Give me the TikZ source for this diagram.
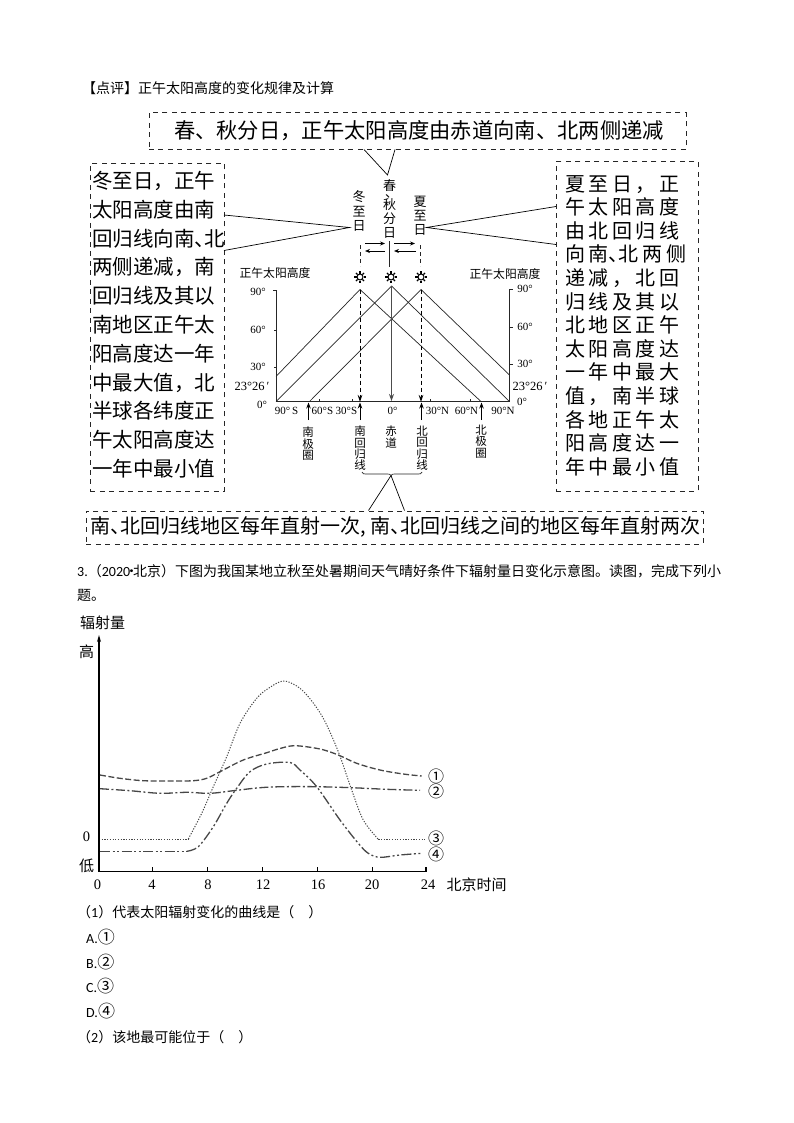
\documentclass[tikz,border=0pt]{standalone}
\usepackage{fontspec}
\setmainfont{Noto Sans CJK SC}
\newfontfamily\numf{Liberation Serif}
\newfontfamily\latf{Carlito}
\newfontfamily\widecjk[LetterSpace=18]{Noto Sans CJK SC}
\usetikzlibrary{arrows.meta}
\newcommand\hp[1]{\makebox[.5em][l]{#1}}
\newcommand\vfontbig{\fontsize{13}{14.2}\selectfont\setlength{\lineskiplimit}{-30pt}\setlength{\lineskip}{0pt}}
\newcommand\vfontsmall{\fontsize{11.5}{11.3}\selectfont\setlength{\lineskiplimit}{-30pt}\setlength{\lineskip}{0pt}}
\tikzset{
  dbox/.style={draw=black!85,line width=.95pt,dash pattern=on 5pt off 4.5pt,inner sep=0pt,anchor=north west},
  body/.style={anchor=west,inner sep=0pt,font=\fontsize{14}{16}\selectfont},
  calltext/.style={inner sep=0pt,align=left},
  callout/.style={draw=black,line width=.7pt,line join=miter},
  sline/.style={draw=black!85,line width=.7pt},
  vlab/.style={inner sep=0pt,align=center,font=\vfontbig},
  vlabs/.style={inner sep=0pt,align=center,font=\vfontsmall},
  num/.style={inner sep=0pt,font=\numf\fontsize{11}{13}\selectfont},
  deg/.style={inner sep=0pt,font=\numf\fontsize{12.5}{14}\selectfont},
  axtitle/.style={inner sep=0pt,font=\fontsize{11.8}{13}\selectfont},
  sunmark/.style={circle,draw=black,line width=1pt,minimum size=6pt,inner sep=0pt},
  tipline/.style={-{Stealth[length=5pt,width=4pt]},draw=black,line width=.7pt},
  dropline/.style={-{Stealth[length=7pt,width=4.5pt]},draw=black,line width=.8pt,dash pattern=on 4pt off 3pt},
  chartnum/.style={inner sep=0pt,font=\numf\fontsize{14.5}{16}\selectfont},
  chartcjk/.style={inner sep=0pt,font=\fontsize{15}{17}\selectfont},
  curve/.style={draw=black!72,line width=1.3pt,smooth,tension=.55},
  circnum/.style={inner sep=0pt,font=\fontsize{16}{18}\selectfont},
}
\begin{document}
\begin{tikzpicture}[x=1pt,y=-1pt]
\fill[white] (0,0) rectangle (794,1123);
\useasboundingbox (0,0) rectangle (794,1123);

% page text
\node[body] (t1) at (82,88) {【点评】正午太阳高度的变化规律及计算};
\node[body] (t2) at (77,571) {{\latf 3.}（{\latf 2020}\makebox[3pt]{·}北京）下图为我国某地立秋至处暑期间天气晴好条件下辐射量日变化示意图。读图，完成下列小};
\node[body] (t3) at (77,595) {题。};
\node[body] (q1) at (77,912) {（{\latf 1}）代表太阳辐射变化的曲线是（\hspace{14pt}）};
\node[body] (a) at (86,937) {{\latf A.}{\fontsize{17}{18}\selectfont ①}};
\node[body] (b) at (86,962) {{\latf B.}{\fontsize{17}{18}\selectfont ②}};
\node[body] (c) at (86,986) {{\latf C.}{\fontsize{17}{18}\selectfont ③}};
\node[body] (d) at (86,1011) {{\latf D.}{\fontsize{17}{18}\selectfont ④}};
\node[body] (q2) at (77,1037) {（{\latf 2}）该地最可能位于（\hspace{14pt}）};

% dashed boxes
\node[dbox,minimum width=537pt,minimum height=37pt] (topbox) at (148.5,112.5) {};
\node[calltext,font=\fontsize{21.3}{24}\selectfont] (toptext) at (419,130.5) {春、秋分日，正午太阳高度由赤道向南、北两侧递减};
\node[dbox,minimum width=134pt,minimum height=328pt] (leftbox) at (90,163) {};
\node[calltext,anchor=north west,font=\fontsize{20.5}{28.8}\selectfont] (lefttext) at (92,171) {冬至日，正午\\太阳高度由南\\回归线向南\hp{、}北\\两侧递减，南\\回归线及其以\\南地区正午太\\阳高度达一年\\中最大值，北\\半球各纬度正\\午太阳高度达\\一年中最小值};
\node[dbox,minimum width=141.5pt,minimum height=330pt] (rightbox) at (556,161) {};
\node[calltext,anchor=north west,font=\widecjk\fontsize{20}{23.6}\selectfont] (righttext) at (565,175) {夏至日，正\\午太阳高度\\由北回归线\\向南\hp{、}北两侧\\递减，北回\\归线及其以\\北地区正午\\太阳高度达\\一年中最大\\值，南半球\\各地正午太\\阳高度达一\\年中最小值};
\node[dbox,minimum width=616.5pt,minimum height=33pt] (botbox) at (86,510.5) {};
\node[calltext,font=\fontsize{20}{22}\selectfont] (bottext) at (395,527) {南\hp{、}北回归线地区每年直射一次\hp{,}南\hp{、}北回归线之间的地区每年直射两次};

% vertical labels
\node[vlab] (dz) at (359,211) {冬\\至\\日};
\node[vlab] (cq) at (389.5,209) {春\\[-7pt]\kern4pt 、\\[-3pt]秋\\分\\日};
\node[vlab] (xz) at (420,216) {夏\\至\\日};

% callouts
\coordinate (tA) at (364,149.5); \coordinate (tB) at (387.5,175); \coordinate (tC) at (395,149.5);
\draw[callout] (tA) -- (tB) -- (tC);
\coordinate (lA) at (224,215); \coordinate (lB) at (349.5,227.5); \coordinate (lC) at (224,250.5);
\draw[callout] (lA) -- (lB) -- (lC);
\coordinate (rA) at (556,206.5); \coordinate (rB) at (426.5,227.5); \coordinate (rC) at (556,244.5);
\draw[callout] (rA) -- (rB) -- (rC);

% direct-ray motion arrows
\coordinate (e0) at (389.5,241); \coordinate (e1) at (389.5,266.5);
\draw[sline] (e0) -- (e1);
\coordinate (m1) at (365,243.5); \coordinate (m2) at (385,243.5); \coordinate (m3) at (385,251); \coordinate (m4) at (365,251);
\coordinate (m5) at (394,243.5); \coordinate (m6) at (415,243.5); \coordinate (m7) at (416,251); \coordinate (m8) at (394,251);
\draw[tipline] (m1) -- (m2); \draw[tipline] (m3) -- (m4);
\draw[tipline] (m5) -- (m6); \draw[tipline] (m7) -- (m8);
\coordinate (d1) at (360,245); \coordinate (d2) at (360,266); \coordinate (d3) at (420,245); \coordinate (d4) at (420,266);
\draw[sline,dash pattern=on 4pt off 3pt] (d1) -- (d2);
\draw[sline,dash pattern=on 4pt off 3pt] (d3) -- (d4);

% suns
\foreach \n/\sx in {sa/360,sb/391,sc/421}{
  \node[sunmark] (\n) at (\sx,277) {};
  \foreach \ang in {0,45,...,315}
    \draw[black,line width=1.1pt] (\n.\ang) -- ++(\ang:2.2pt);
}

% axes
\coordinate (la) at (276,290); \coordinate (lo) at (276,401.5); \coordinate (ro) at (509.5,401.5); \coordinate (ra) at (509.5,289);
\draw[sline] (la) -- (lo) -- (ro) -- (ra);
\draw[sline] (la) -- ++(-3,0);
\draw[sline] (ra) -- ++(3,0);
\draw[sline] (509.5,327) -- ++(3,0);
\draw[sline] (509.5,364) -- ++(3,0);
\draw[sline] (276,330) -- ++(-2.5,0);
\draw[sline] (276,367) -- ++(-2.5,0);
\foreach \tx in {319,352,430,470} \draw[sline] (\tx,401.5) -- ++(0,-3);

% sloping lines
\coordinate (p1) at (360,289.5); \coordinate (p2) at (391.5,286); \coordinate (p3) at (421,289.5);
\coordinate (e1l) at (276,376.5); \coordinate (e1r) at (481,401.5);
\coordinate (e3l) at (309.5,401.5); \coordinate (e3r) at (509.5,375);
\draw[sline] (e1l) -- (p1) -- (e1r);
\draw[sline] (lo) -- (p2) -- (ro);
\draw[sline] (e3l) -- (p3) -- (e3r);

% drops
\coordinate (f1) at (360,402); \coordinate (f3) at (421,402); \coordinate (f2) at (391.5,401);
\draw[dropline] (p1) -- (f1);
\draw[dropline] (p3) -- (f3);
\draw[-{Stealth[length=7pt,width=5pt]},draw=black!70,line width=1.6pt] (p2) -- (f2);

% up arrows
\foreach \ux/\nm in {308.5/u1,360/u2,421.5/u3,481.5/u4}{
  \coordinate (\nm a) at (\ux,420); \coordinate (\nm b) at (\ux,402.5);
  \draw[-{Stealth[length=6pt,width=4.5pt]},draw=black,line width=.8pt] (\nm a) -- (\nm b);
}

% axis labels
\node[axtitle] (lt) at (275,273) {正午太阳高度};
\node[axtitle] (rt) at (505,274) {正午太阳高度};
\node[num] (l90) at (258,292) {90°};
\node[num] (l60) at (258,330) {60°};
\node[num] (l30) at (258,367) {30°};
\node[deg] (l23) at (252,386) {23°26\,′};
\node[num] (l0) at (262,405) {0°};
\node[num] (r90) at (525,289) {90°};
\node[num] (r60) at (525,327) {60°};
\node[num] (r30) at (525,364) {30°};
\node[deg] (r23) at (530,386.5) {23°26\,′};
\node[num] (r0) at (522,402) {0°};
\node[num] (x1) at (286.5,411) {90°\,S};
\node[num] (x2) at (322.5,411) {60°S};
\node[num] (x3) at (346.5,411) {30°S};
\node[num] (x4) at (392.5,411) {0°};
\node[num] (x5) at (437.5,411) {30°N};
\node[num] (x6) at (466.5,411) {60°N};
\node[num] (x7) at (503,411) {90°N};

\node[vlabs,anchor=north] (v1) at (308,427) {南\\极\\圈};
\node[vlabs,anchor=north] (v2) at (360,426) {南\\回\\归\\线};
\node[vlabs,anchor=north] (v3) at (391,426) {赤\\道};
\node[vlabs,anchor=north] (v4) at (422,426) {北\\回\\归\\线};
\node[vlabs,anchor=north] (v5) at (481,425) {北\\极\\圈};

% brace
\coordinate (b1) at (362,472); \coordinate (b2) at (391,475.5); \coordinate (b3) at (422,472);
\draw[sline] (b1) .. controls (362.5,474) and (364,474) .. (366,474) -- (387,474) .. controls (389,474) and (390,474) .. (b2) .. controls (392,474) and (393,474) .. (395,474) -- (418,474) .. controls (420,474) and (421.5,474) .. (b3);
\coordinate (bA) at (368.5,510.5); \coordinate (bB) at (404.5,510.5);
\draw[callout] (bA) -- (b2) -- (bB);

% chart
\coordinate (oo) at (99,871.5); \coordinate (yt) at (99,635); \coordinate (xe) at (426,871.5);
\draw[-{Stealth[length=7pt,width=4pt]},draw=black,line width=1.2pt] (oo) -- (yt);
\draw[black,line width=1.1pt] (oo) -- (xe) -- ++(0,-5);
\foreach \tx in {152.7,207.7,262.7,317.7,372.3} \draw[black,line width=.8pt] (\tx,871.5) -- ++(0,-5);

\node[chartcjk] (ylab) at (102.5,622.5) {辐射量};
\node[chartcjk] (hi) at (86.5,651.5) {高};
\node[chartnum] (zero) at (86.5,836.5) {0};
\node[chartcjk] (lo2) at (86.5,866) {低};
\node[chartnum] (c0) at (97.5,885) {0};
\node[chartnum] (c4) at (152,885) {4};
\node[chartnum] (c8) at (208,885) {8};
\node[chartnum] (c12) at (263,885) {12};
\node[chartnum] (c16) at (318,885) {16};
\node[chartnum] (c20) at (372,885) {20};
\node[chartnum] (c24) at (428,885) {24};
\node[chartcjk] (bjt) at (476.5,885) {北京时间};

\draw[curve,dash pattern=on 6pt off 2.5pt] plot coordinates {(100,775) (120,778.3) (143.3,780.7) (170,781) (193.3,780.7) (206.7,778.3) (220,771.7) (243.3,760) (266.7,752.7) (280,748.5) (295,745.7) (320,749) (338.3,755) (356.7,763.3) (380,770) (403.3,774) (421.7,776)};
\draw[curve,dash pattern=on 9pt off 2.5pt on 2pt off 2.5pt] plot coordinates {(100,788.7) (130,790.7) (160,793.3) (186.7,792.3) (210,793.3) (233.3,790.7) (260,787.7) (283.3,786.7) (316.7,786.7) (351.7,787.7) (386.7,789.3) (420,790.3)};
\draw[draw=black!72,line width=1pt,dash pattern=on 1.2pt off 1.5pt] (101.7,839) -- (188.3,839);
\draw[curve,line width=1pt,dash pattern=on 1.2pt off 1.5pt] plot coordinates {(188.3,839) (201.7,813.3) (213.3,786.7) (226.7,756.7) (240,723.3) (256.7,698.3) (270,687.3) (283.3,681) (296.7,686) (308.3,696.7) (323.3,718.3) (338.3,751.7) (351.7,790) (363.3,820) (378.3,839.3)};
\draw[draw=black!72,line width=1pt,dash pattern=on 1.2pt off 1.5pt] (378.3,839.3) -- (426.7,839.3);
\draw[draw=black!72,line width=1.3pt,dash pattern=on 10pt off 2.5pt on 2pt off 2.5pt on 2pt off 2.5pt] (100,851.3) -- (186.7,851.3);
\draw[curve,dash pattern=on 10pt off 2.5pt on 2pt off 2.5pt on 2pt off 2.5pt] plot coordinates {(186.7,851.3) (198.3,846.7) (213.3,826.7) (226.7,803.3) (236.7,788.3) (250,771.7) (266.7,764) (290,762.5) (300,770) (316.7,786.7) (340,820) (358.3,843.3) (368.3,853.3) (380,857.3) (400,855) (421.7,853.3)};

\node[circnum] (n1) at (436,776.5) {①};
\node[circnum] (n2) at (436,791) {②};
\node[circnum] (n3) at (436,838.5) {③};
\node[circnum] (n4) at (436,854) {④};
\end{tikzpicture}
\end{document}
